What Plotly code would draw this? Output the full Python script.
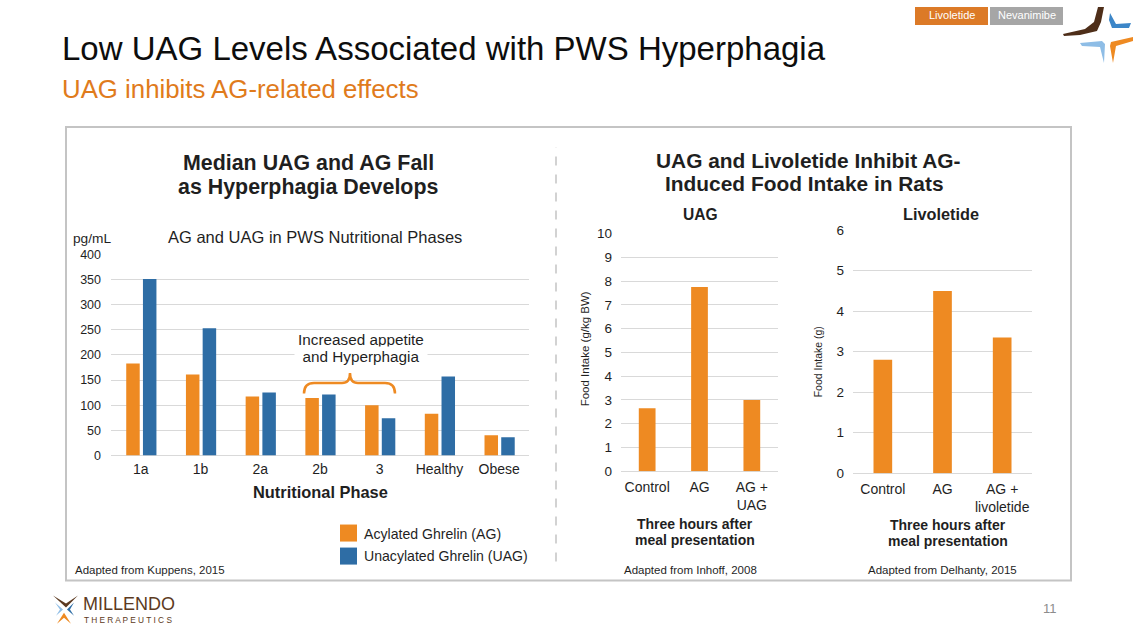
import math
import plotly.graph_objects as go

# Layout positions below are written in the 1134x635 page pixels of the
# reference.  The page is photographed with a slight vertical squeeze
# (page_y = SQ * figure_y + OFF), so vertical positions are mapped back
# through that before being handed to Plotly.
W = 1134
SQ, OFF = 0.9757, 7.0
H = math.ceil((635 - OFF) / SQ)


def px(x):
    return x / W


def py(y):
    return 1 - ((y - OFF) / SQ) / H


# ---------------- data ----------------
phases = ["1a", "1b", "2a", "2b", "3", "Healthy", "Obese"]
ag_pgml = [183, 161, 117, 114, 100, 83, 40]
uag_pgml = [351, 253, 125, 121, 74, 157, 36]
left_ticks = [0, 50, 100, 150, 200, 250, 300, 350, 400]

uag_groups = ["Control", "AG", "AG +<br>UAG"]
uag_intake = [2.65, 7.75, 3.0]
uag_ticks = [0, 1, 2, 3, 4, 5, 6, 7, 8, 9, 10]

liv_groups = ["Control", "AG", "AG +<br>livoletide"]
liv_intake = [2.8, 4.5, 3.35]
liv_ticks = [0, 1, 2, 3, 4, 5, 6]

ORANGE = "#EE8A22"
BLUE = "#2E6DA5"
GRID = "#D9D9D9"
FONT = "Liberation Sans, Arial, sans-serif"
TXT = "#1F1F1F"

fig = go.Figure()

fig.add_trace(go.Bar(x=phases, y=ag_pgml, name="Acylated Ghrelin (AG)",
                     marker=dict(color=ORANGE, line=dict(width=0)),
                     width=0.226, offset=-0.245, xaxis="x", yaxis="y"))
fig.add_trace(go.Bar(x=phases, y=uag_pgml, name="Unacylated Ghrelin (UAG)",
                     marker=dict(color=BLUE, line=dict(width=0)),
                     width=0.226, offset=0.035, xaxis="x", yaxis="y"))
fig.add_trace(go.Bar(x=uag_groups, y=uag_intake, name="UAG study",
                     marker=dict(color=ORANGE, line=dict(width=0)),
                     width=0.32, xaxis="x2", yaxis="y2"))
fig.add_trace(go.Bar(x=liv_groups, y=liv_intake, name="Livoletide study",
                     marker=dict(color=ORANGE, line=dict(width=0)),
                     width=0.313, xaxis="x3", yaxis="y3"))

xfont = dict(family=FONT, size=14, color=TXT)
xcommon = dict(type="category", showgrid=False, showline=False, zeroline=False,
               ticks="", tickfont=xfont, fixedrange=True)
ycommon = dict(showgrid=True, gridcolor=GRID, gridwidth=1, zeroline=True,
               zerolinecolor=GRID, zerolinewidth=1, showline=False, ticks="",
               fixedrange=True)

fig.update_layout(
    width=W, height=H,
    margin=dict(l=0, r=0, t=0, b=0),
    paper_bgcolor="white", plot_bgcolor="rgba(0,0,0,0)",
    font=dict(family=FONT, color=TXT),
    barmode="overlay",
    showlegend=False,
    xaxis=dict(domain=[px(111), px(529)], anchor="y", ticklabelstandoff=4, **xcommon),
    yaxis=dict(domain=[py(455), py(254)], anchor="x", range=[0, 400],
               tickvals=left_ticks, ticklabelstandoff=9,
               tickfont=dict(family=FONT, size=12.5, color=TXT), **ycommon),
    xaxis2=dict(domain=[px(621), px(778)], anchor="y2", ticklabelstandoff=6, **xcommon),
    yaxis2=dict(domain=[py(470.7), py(233.3)], anchor="x2", range=[0, 10],
                tickvals=uag_ticks, ticklabelstandoff=8,
                tickfont=dict(family=FONT, size=13.5, color=TXT), **ycommon),
    xaxis3=dict(domain=[px(853), px(1032)], anchor="y3", ticklabelstandoff=6, **xcommon),
    yaxis3=dict(domain=[py(472.7), py(230)], anchor="x3", range=[0, 6],
                tickvals=liv_ticks, ticklabelstandoff=8,
                tickfont=dict(family=FONT, size=13.5, color=TXT), **ycommon),
)


def path(points, close=True):
    s = "M " + " L ".join(f"{px(x):.5f},{py(y):.5f}" for x, y in points)
    return s + (" Z" if close else "")


def poly(points, color):
    return dict(type="path", xref="paper", yref="paper", path=path(points),
                fillcolor=color, line=dict(width=0))


def rect(x0, y0, x1, y1, color, **kw):
    return dict(type="rect", xref="paper", yref="paper",
                x0=px(x0), x1=px(x1), y0=py(y1), y1=py(y0),
                fillcolor=color, line=dict(width=0), **kw)


shapes = []
# outer box
shapes.append(dict(type="rect", xref="paper", yref="paper",
                   x0=px(66), x1=px(1071), y0=py(580), y1=py(127),
                   line=dict(color="#C4C4C4", width=2), layer="below"))
# dashed divider
shapes.append(dict(type="line", xref="paper", yref="paper",
                   x0=px(556), x1=px(556), y0=py(561), y1=py(147),
                   line=dict(color="#C4C4C4", width=1.5, dash="dash")))
# top tabs
shapes.append(rect(915, OFF, 988, 25, "#DC7A27"))
shapes.append(rect(990, OFF, 1063, 25, "#A6A6A6"))
# legend swatches
shapes.append(rect(340, 524, 357, 541, ORANGE))
shapes.append(rect(340, 547, 357, 564, BLUE))

# top-right logo pieces
shapes.append(poly([(1063, 34), (1085, 29), (1094, 22), (1098, OFF), (1104, OFF),
                    (1101, 22), (1097, 31), (1080, 35), (1064, 36)], "#4E2E19"))
shapes.append(poly([(1110, 13), (1116, 24), (1131, 23), (1129, 28), (1112, 28),
                    (1109, 20)], "#3C86C8"))
shapes.append(poly([(1080, 43), (1102, 41), (1105, 44), (1104, 63), (1100, 47),
                    (1082, 46)], "#8EBDE6"))
shapes.append(poly([(1133, 37), (1133, 41), (1116, 46), (1113, 63), (1110, 46),
                    (1111, 42)], "#EE8A22"))
# bottom-left logo mark
shapes.append(poly([(53, 595), (66, 603), (78, 595), (66, 607)], "#5C3A21"))
shapes.append(poly([(55, 602), (63, 609), (56, 615), (60, 609)], "#8EBDE6"))
shapes.append(poly([(57, 623), (64, 612), (71, 623), (64, 617)], "#EE8A22"))
shapes.append(poly([(74, 602), (67, 609), (74, 615), (70, 609)], "#2E6DA5"))

# curly brace
bx = lambda x: f"{px(x):.5f}"
by = lambda y: f"{py(y):.5f}"
brace = (f"M {bx(304)},{by(393)} Q {bx(304)},{by(382.5)} {bx(314)},{by(382.5)} "
         f"L {bx(342)},{by(382.5)} Q {bx(350)},{by(382.5)} {bx(350)},{by(372.5)} "
         f"Q {bx(350)},{by(382.5)} {bx(358)},{by(382.5)} "
         f"L {bx(385)},{by(382.5)} Q {bx(395)},{by(382.5)} {bx(395)},{by(393)}")
shapes.append(dict(type="path", xref="paper", yref="paper", path=brace,
                   line=dict(color=ORANGE, width=2.5)))
fig.update_layout(shapes=shapes)

anns = []


def ann(text, x, y, size, color=TXT, xanchor="center", bold=False, **kw):
    if bold:
        text = f"<b>{text}</b>"
    anns.append(dict(text=text, x=px(x), y=py(y), xref="paper", yref="paper",
                     xanchor=xanchor, yanchor="middle", showarrow=False,
                     font=dict(family=FONT, size=size, color=color), **kw))


ann("Low UAG Levels Associated with PWS Hyperphagia", 60, 48, 33, color="#0D0D0D", xanchor="left")
ann("UAG inhibits AG-related effects", 60, 89, 25.8, color="#E07B1C", xanchor="left")
ann("Median UAG and AG Fall", 308, 163, 21.4, bold=True)
ann("as Hyperphagia Develops", 308, 187, 21.4, bold=True)
ann("AG and UAG in PWS Nutritional Phases", 315, 237, 16.5)
ann("pg/mL", 71, 238, 13.7, xanchor="left")
ann("Nutritional Phase", 320.5, 491, 16.4, bold=True)
ann("Increased appetite", 361, 339, 15.3)
ann("and Hyperphagia", 361, 356, 15.3, bgcolor="white", width=130)
ann("UAG and Livoletide Inhibit AG-", 807.5, 160, 20.9, bold=True)
ann("Induced Food Intake in Rats", 804, 183, 20.9, bold=True)
ann("UAG", 700, 214, 15.6, bold=True)
ann("Livoletide", 941, 214, 16.3, bold=True)
ann("Three hours after", 695, 523.5, 14, bold=True)
ann("meal presentation", 695, 539.5, 14, bold=True)
ann("Three hours after", 947.5, 524, 14, bold=True)
ann("meal presentation", 947.5, 540, 14, bold=True)
ann("Food Intake (g/kg BW)", 585, 349, 11.5, textangle=-90)
ann("Food Intake (g)", 818, 362, 10.5, textangle=-90)
ann("Acylated Ghrelin (AG)", 362, 533, 14.1, xanchor="left")
ann("Unacylated Ghrelin (UAG)", 362, 555.5, 14.1, xanchor="left")
ann("Adapted from Kuppens, 2015", 73, 569, 11.5, xanchor="left")
ann("Adapted from Inhoff, 2008", 622, 569, 11.5, xanchor="left")
ann("Adapted from Delhanty, 2015", 866, 569, 11.5, xanchor="left")
ann("11", 1050, 608, 13, color="#8C8C8C")
ann("Livoletide", 951.5, 15, 11, color="white")
ann("Nevanimibe", 1026.5, 15, 11, color="white")
ann("MILLENDO", 81, 603, 18, color="#5C3A21", xanchor="left")
ann("T H E R A P E U T I C S", 82, 619, 8.3, color="#5C3A21", xanchor="left")
fig.update_layout(annotations=anns)

fig.write_html(
    "out.html",
    config={"displayModeBar": False},
    post_script=(
        "document.documentElement.style.margin='0';"
        "document.documentElement.style.padding='0';"
        "document.documentElement.style.overflow='hidden';"
        "document.body.style.margin='0';"
        "document.body.style.padding='0';"
        "document.body.style.overflow='hidden';"
        "document.body.style.height='635px';"
    ),
)
